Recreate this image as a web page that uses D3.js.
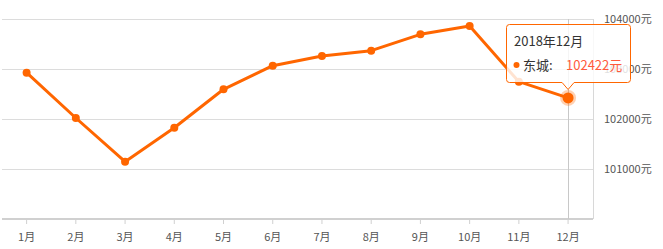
<!DOCTYPE html>
<html>
<head>
<meta charset="utf-8">
<script src="https://cdn.jsdelivr.net/npm/d3@7"></script>
<style>
  body { margin: 0; background: #fff; }
  svg { display: block; font-family: "Noto Sans CJK SC", "Noto Sans", sans-serif; }
</style>
</head>
<body>
<script>
let months = ["1月","2月","3月","4月","5月","6月","7月","8月","9月","10月","11月","12月"];
let prices = [102926, 102020, 101146, 101826, 102594, 103066, 103260, 103366, 103694, 103860, 102746, 102422];
let yTicks = [101000, 102000, 103000, 104000];
let seriesName = "东城";
let tipTitle = "2018年12月";
let tipIndex = 11;

let width = 663, height = 249;
let margin = {top: 19, right: 70, bottom: 30, left: 2};

let svg = d3.select("body").append("svg")
  .attr("width", width)
  .attr("height", height);

let x = d3.scaleBand().domain(months).range([margin.left, 592.7]);
let y = d3.scaleLinear().domain([100000, 104000]).range([height - margin.bottom, margin.top]);
let cx = function(m){ return x(m) + x.bandwidth() / 2; };

// grid lines
svg.append("g")
  .selectAll("line")
  .data(yTicks)
  .enter()
  .append("line")
  .attr("x1", margin.left)
  .attr("x2", 593)
  .attr("y1", function(d){ return Math.round(y(d)) + 0.5; })
  .attr("y2", function(d){ return Math.round(y(d)) + 0.5; })
  .attr("stroke", "#dcdcdc");

// right border
svg.append("line")
  .attr("x1", 593.5).attr("x2", 593.5)
  .attr("y1", y(104000)).attr("y2", y(100000))
  .attr("stroke", "#d8d8d8");

// y labels on the right
svg.append("g")
  .selectAll("text")
  .data(yTicks)
  .enter()
  .append("text")
  .attr("x", 604)
  .attr("y", function(d){ return y(d); })
  .attr("dy", "0.35em")
  .style("font-size", "11px")
  .style("fill", "#555")
  .text(function(d){ return d + "元"; });

// x axis
let xAxis = d3.axisBottom(x).tickSize(5).tickPadding(9);
let gx = svg.append("g")
  .attr("transform", "translate(0," + y(100000) + ")")
  .call(xAxis);
gx.select(".domain").attr("stroke", "#d0d0d0").attr("stroke-width", 2).attr("d", "M" + margin.left + ",0H593");
gx.selectAll(".tick line").attr("stroke", "#d0d0d0");
gx.selectAll(".tick text")
  .style("font-size", "11px")
  .style("fill", "#555")
  .style("font-family", "'Noto Sans CJK SC', sans-serif");

// crosshair
svg.append("line")
  .attr("x1", Math.round(cx(months[tipIndex])) + 0.5)
  .attr("x2", Math.round(cx(months[tipIndex])) + 0.5)
  .attr("y1", y(104000)).attr("y2", y(100000))
  .attr("stroke", "#c8c8c8");

// line
let data = months.map(function(m, i){ return {m: m, v: prices[i]}; });
let line = d3.line()
  .x(function(d){ return cx(d.m); })
  .y(function(d){ return y(d.v); });

svg.append("path")
  .datum(data)
  .attr("d", line)
  .attr("fill", "none")
  .attr("stroke", "#ff6600")
  .attr("stroke-width", 3)
  .attr("stroke-linejoin", "round");

svg.append("g")
  .selectAll("circle")
  .data(data)
  .enter()
  .append("circle")
  .attr("cx", function(d){ return cx(d.m); })
  .attr("cy", function(d){ return y(d.v); })
  .attr("r", function(d, i){ return i == tipIndex ? 5.5 : 4; })
  .attr("fill", "#ff6600")
  .attr("stroke", function(d, i){ return i == tipIndex ? "rgba(255,102,0,0.3)" : "none"; })
  .attr("stroke-width", 5);

// tooltip
let tx = cx(months[tipIndex]);
let tip = svg.append("g");
let bx0 = 506.5, bx1 = 630.5, by0 = 24.5, by1 = 82.5, r = 3;
let tipPath = "M" + (bx0 + r) + "," + by0 +
  "H" + (bx1 - r) + "Q" + bx1 + "," + by0 + " " + bx1 + "," + (by0 + r) +
  "V" + (by1 - r) + "Q" + bx1 + "," + by1 + " " + (bx1 - r) + "," + by1 +
  "H" + (tx + 6) + "L" + tx + "," + (by1 + 7) + "L" + (tx - 6) + "," + by1 +
  "H" + (bx0 + r) + "Q" + bx0 + "," + by1 + " " + bx0 + "," + (by1 - r) +
  "V" + (by0 + r) + "Q" + bx0 + "," + by0 + " " + (bx0 + r) + "," + by0 + "Z";
tip.append("path")
  .attr("d", tipPath)
  .attr("fill", "rgba(255,255,255,0.82)")
  .attr("stroke", "#ff6600")
  .attr("stroke-width", 1);

tip.append("text")
  .attr("x", 514)
  .attr("y", 41)
  .attr("dy", "0.35em")
  .style("font-size", "13px")
  .style("fill", "#333")
  .text(tipTitle);

tip.append("circle")
  .attr("cx", 516.5)
  .attr("cy", 65)
  .attr("r", 3)
  .attr("fill", "#ff6600");

tip.append("text")
  .attr("x", 523)
  .attr("y", 65)
  .attr("dy", "0.35em")
  .style("font-size", "13px")
  .style("fill", "#333")
  .text(seriesName + ":");

tip.append("text")
  .attr("x", 566)
  .attr("y", 65)
  .attr("dy", "0.35em")
  .style("font-size", "13px")
  .style("fill", "#ff5a3c")
  .text(prices[tipIndex] + "元");
</script>
</body>
</html>
